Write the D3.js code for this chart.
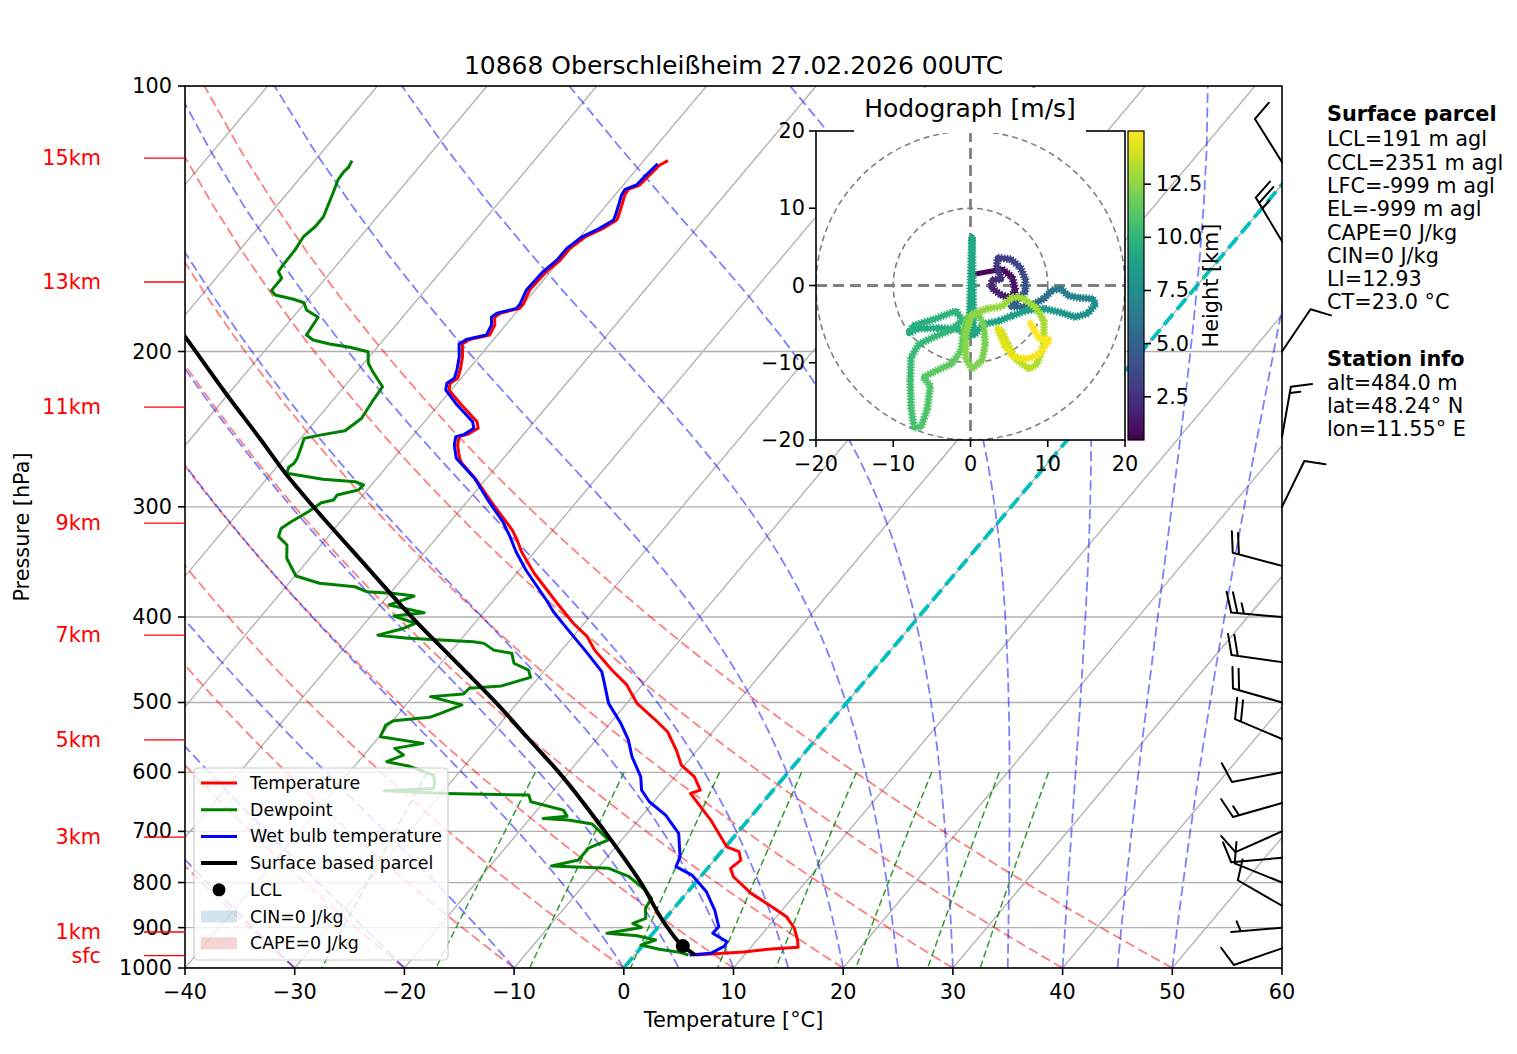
<!DOCTYPE html>
<html><head><meta charset="utf-8">
<script src="https://cdn.jsdelivr.net/npm/d3@7"></script>
<style>body{margin:0;background:#fff;} svg{font-family:"DejaVu Sans",sans-serif;}</style>
</head><body><svg id="c" width="1517" height="1054"></svg>
<script>
// ---------------- DATA ----------------
const titleText = "10868 Oberschleißheim 27.02.2026 00UTC";
const pressureTicks = [100,200,300,400,500,600,700,800,900,1000];
const tempTicks = [-40,-30,-20,-10,0,10,20,30,40,50,60];
// [pressure hPa, temperature °C]
const temperature = [[121.5,-57.8],[122.9,-58.2],[126.7,-58.4],[129.5,-58.5],[131,-59.2],[132.9,-59.1],[136.4,-58.6],[139.4,-58.2],[141.9,-57.9],[145.3,-58.6],[148.3,-59.5],[152.8,-60.0],[157.5,-60.0],[162.8,-60.4],[170.3,-60.5],[176.7,-60.0],[178.7,-60.0],[181,-61.4],[182.9,-61.6],[186.6,-61.0],[191.6,-60.7],[193.8,-62.2],[196.1,-62.5],[202.8,-61.5],[209.9,-60.7],[214.5,-60.3],[217.3,-60.6],[221.1,-60.2],[230,-57.9],[240.3,-55.2],[244.4,-54.6],[248.3,-55.1],[249.8,-55.7],[255.3,-55.2],[264.3,-54.0],[267.8,-53.4],[279.7,-50.8],[296,-47.8],[318.8,-43.7],[327.1,-42.5],[337.3,-41.2],[356.8,-38.4],[385.9,-34.0],[406.6,-31.0],[421.1,-28.7],[436.1,-27.0],[459.4,-23.9],[477.6,-21.4],[501.2,-19.05],[523.4,-16.1],[539.7,-14.1],[566.1,-11.9],[588.7,-10.3],[607,-8.2],[628.5,-6.65],[633.9,-7.3],[679.6,-3.4],[728.7,0.1],[738.2,1.6],[754.4,2.4],[770.9,2.1],[788,3.0],[823,5.9],[852.1,8.8],[874.7,10.9],[901.4,12.5],[929.6,13.7],[947.4,14.3],[952.4,11.7],[959.2,9.7],[962.4,7.9],[966.6,5.5]];
const dewpoint = [[121.5,-86.6],[123.7,-86.4],[125.1,-86.5],[127.8,-86.4],[131.8,-85.9],[135.3,-85.5],[140.7,-84.9],[144.4,-84.9],[148.3,-85.2],[153.5,-84.95],[159.6,-84.9],[162.4,-84.8],[165.2,-84.0],[170.6,-84.0],[172.6,-83.3],[174.5,-81.3],[176.1,-80.1],[179.5,-79.3],[182.9,-77.7],[191.6,-77.4],[194.1,-76.4],[196.1,-74.6],[197.8,-72.5],[200.1,-70.5],[206.2,-69.6],[210.8,-68.55],[219.3,-66.5],[228,-66.3],[238.2,-66.0],[246,-66.55],[248.8,-68.5],[250.9,-69.7],[256.5,-69.3],[264.3,-68.8],[267.8,-68.7],[270.5,-68.9],[274.8,-68.6],[279.2,-64.85],[281,-61.7],[283.4,-60.7],[287.1,-60.8],[290.9,-62.35],[294.7,-62.3],[296.8,-63.2],[303.9,-63.7],[311.9,-64.5],[317.4,-64.9],[324.3,-64.5],[331.4,-63.1],[343.1,-62.1],[359.4,-59.9],[366.3,-57.2],[369.6,-53.7],[374.5,-52.2],[376.1,-49.6],[378.7,-47.6],[387.6,-49.2],[395.6,-45.4],[399,-47.9],[406.6,-45.4],[412.1,-46.1],[419.4,-47.9],[422.9,-44.9],[426.6,-38.7],[428.5,-37.6],[436.1,-36.2],[439.8,-34.3],[451.3,-33.35],[459.4,-31.5],[468.3,-30.75],[478.8,-32.75],[481.7,-35.5],[489,-35.6],[492.4,-38.4],[503.2,-34.9],[514.3,-36.2],[519.7,-36.9],[524.3,-39.9],[530.2,-40.3],[546.7,-39.9],[556.3,-35.5],[563.6,-37.7],[573.5,-36.4],[583.6,-37.4],[590.2,-35.1],[604.4,-32.1],[615.1,-31.5],[625.7,-31.1],[629.6,-35.4],[633.9,-29.6],[636.7,-21.9],[647.9,-21.2],[662.2,-17.6],[672.7,-16.8],[676.8,-18.8],[679.6,-16.4],[686.8,-13.9],[715.8,-11.2],[731.5,-12.4],[754.4,-12.4],[766.3,-14.4],[770.9,-9.0],[788,-6.5],[815.9,-4.0],[833.7,-2.8],[855.6,-2.6],[878.4,-1.8],[890,-2.6],[899.5,-1.5],[913.3,-4.2],[919.3,-1.25],[929.6,0.75],[941.9,-0.2],[952.4,1.8],[960,3.9],[966.6,4.9]];
const wetbulb = [[122.5,-58.5],[126.7,-58.7],[129.5,-58.8],[131,-59.5],[132.9,-59.4],[136.4,-58.9],[139.4,-58.5],[141.9,-58.2],[145.3,-58.9],[148.3,-59.8],[152.8,-60.3],[157.5,-60.3],[162.8,-60.7],[170.3,-60.8],[176.7,-60.3],[178.7,-60.3],[181,-61.7],[182.9,-61.9],[186.6,-61.3],[191.6,-61.0],[193.8,-62.5],[196.1,-62.8],[202.8,-61.8],[209.9,-61.0],[214.5,-60.6],[217.3,-60.9],[221.1,-60.5],[230,-58.3],[240.3,-55.6],[244.4,-55.0],[248.3,-55.4],[249.8,-56.0],[255.3,-55.5],[264.3,-54.3],[267.8,-53.5],[278.5,-51.1],[296,-48.0],[311.9,-45.2],[324.3,-43.4],[337.3,-41.7],[353.8,-39.4],[384.4,-35.0],[394.5,-33.7],[415.6,-30.7],[439.8,-27.4],[461.3,-24.7],[479.7,-23.25],[501.2,-21.65],[528,-19.0],[551.3,-17.05],[575.8,-15.45],[607,-13.1],[628.5,-12.0],[647.9,-10.4],[670.8,-7.9],[703.8,-5.3],[747.7,-3.4],[767.6,-3.0],[784.6,-0.9],[819.6,1.7],[859.5,3.85],[897.9,5.5],[913.3,5.45],[933.7,7.4],[944.4,7.5],[962.4,6.8],[966.6,5.0]];
const parcel = [[966.6,5.5],[944.4,3.7],[900,0.9],[800,-5.0],[700,-12.2],[600,-20.9],[550,-26.2],[500,-32.0],[450,-38.7],[400,-46.2],[350,-54.3],[300,-63.6],[275,-68.7],[252,-73.5],[223,-80.3],[195,-87.6],[180,-92.0]];
const lclPoint = [944.4, 3.7];
const heightLabels = ["15km","13km","11km","9km","7km","5km","3km","1km","sfc"];
const heightPressures = [120.7,166.8,231.2,313.0,419.4,551.3,710.6,910.3,968.4];
const windP = [122,150,200,250,300,350,400,450,500,550,600,650,700,750,800,850,900,950];
const windDir = [328,329,34,10,26,285,275,278,286,293,259,254,246,265,292,300,265,251];
const windSpd = [10,25,10,15,10,20,25,20,20,20,10,15,10,10,10,10,5,10];
const dryT0 = [-40,-30,-20,-10,0,10,20,30,40,50];
const moistT0 = [-40,-30,-20,-10,0,5,10,15,20,25,30,35,40,45,50];
const mixingRatios = [0.0004,0.001,0.002,0.004,0.007,0.01,0.016,0.024,0.032];
const hodoH = [0.47,0.70,0.95,1.2,1.45,1.7,1.95,2.2,2.45,2.7,2.95,3.3,3.6,3.9,4.2,4.5,4.8,5.1,5.4,5.7,6.0,6.3,6.6,6.9,7.2,7.45,7.7,7.95,8.2,8.45,8.6,8.75,8.85,8.95,9.05,9.1,9.15,9.25,9.35,9.45,9.55,9.65,9.75,9.85,9.95,10.05,10.15,10.25,10.35,10.5,10.65,10.8,10.9,11.0,11.1,11.2,11.3,11.4,11.5,11.6,11.7,11.8,11.9,12.0,12.1,12.2,12.3,12.4,12.5,12.6,12.7,12.8,12.9,13.0,13.1,13.2,13.3,13.4,13.6,13.8,14.0,14.2,14.35,14.5,14.65,14.8,14.9,14.95,15.0];
const hodoU = [0.6,4.1,5.4,5.8,5.2,3.9,2.7,2.8,4.0,3.4,3.5,5.2,6.4,7.1,7.1,5.8,5.2,6.5,8.2,9.5,10.6,11.7,12.6,14.1,15.8,16.2,15.2,13.6,11.7,9.5,7.4,5.4,3.7,1.7,0.4,0.2,-0.2,-1.7,-4.3,-6.9,-8.0,-7.4,-4.8,-1.9,-1.0,-2.6,-4.8,-6.7,-7.7,-7.8,-7.7,-7.3,-6.4,-5.6,-5.2,-6.1,-4.8,-2.4,-1.2,-0.9,-0.4,0.9,1.7,1.9,1.5,0.2,-0.6,-0.6,0.2,2.2,4.1,5.4,6.7,8.4,9.5,9.5,8.6,7.6,5.8,4.8,4.1,3.5,4.4,5.6,7.4,8.9,10.2,8.9,7.7];
const hodoV = [1.5,2.1,1.1,-0.6,-1.6,-1.2,-0.3,0.7,0.8,2.4,3.6,3.4,2.4,0.9,-0.8,-2.2,-2.7,-2.8,-2.4,-1.7,-0.6,-0.4,-1.3,-1.6,-1.7,-2.4,-3.6,-4.1,-3.5,-3.0,-3.2,-3.9,-4.6,-5.0,-6.5,6.3,-6.7,-5.6,-5.5,-5.6,-6.2,-5.2,-4.4,-3.3,-4.5,-5.8,-6.7,-7.6,-9.3,-12.3,-15.8,-18.4,-18.3,-16.0,-13.0,-11.9,-11.2,-10.1,-8.4,-5.8,-4.1,-3.6,-5.0,-7.6,-9.7,-10.8,-9.5,-6.3,-3.7,-3.0,-2.7,-1.5,-1.6,-2.8,-4.5,-7.6,-10.2,-10.8,-9.5,-7.6,-6.0,-5.5,-7.8,-9.3,-9.5,-8.9,-7.0,-6.9,-4.8];
const hodoTicks = [-20,-10,0,10,20];
const cbTicks = [2.5,5.0,7.5,10.0,12.5];
const cbRange = [0.47,15.0];
const parcelInfo = ["LCL=191 m agl","CCL=2351 m agl","LFC=-999 m agl","EL=-999 m agl","CAPE=0 J/kg","CIN=0 J/kg","LI=12.93","CT=23.0 °C"];
const stationInfo = ["alt=484.0 m","lat=48.24° N","lon=11.55° E"];
const legendLabels = ["Temperature","Dewpoint","Wet bulb temperature","Surface based parcel","LCL","CIN=0 J/kg","CAPE=0 J/kg"];

// ---------------- LAYOUT ----------------
const svg = d3.select("#c");
const L=185, R=1282, T=86, B=968, K=0.84;
const FS=20.8;
const xs = d3.scaleLinear().domain([-40,60]).range([L,R]);
const ys = d3.scaleLog().domain([1000,100]).range([B,T]);
const sx = (t,p)=> xs(t) + K*(B - ys(p));
const pLin = (a,b,n)=> d3.range(n).map(i=>a+(b-a)*i/(n-1));
const line = d3.line().x(d=>sx(d[1],d[0])).y(d=>ys(d[0]));
const smooth = d3.line().x(d=>sx(d[1],d[0])).y(d=>ys(d[0])).curve(d3.curveMonotoneY);
const fmt = v => (v<0? "\u2212"+Math.abs(v) : ""+v);

const defs = svg.append("defs");
defs.append("clipPath").attr("id","pc").append("rect").attr("x",L).attr("y",T).attr("width",R-L).attr("height",B-T);

const plot = svg.append("g").attr("clip-path","url(#pc)");
d3.range(-120,61,10).forEach(t=>{
  plot.append("line").attr("x1",sx(t,1000)).attr("y1",B).attr("x2",sx(t,100)).attr("y2",T)
    .attr("stroke","#b0b0b0").attr("stroke-width",1.3);
});
pressureTicks.forEach(p=>{
  plot.append("line").attr("x1",L).attr("x2",R).attr("y1",ys(p)).attr("y2",ys(p)).attr("stroke","#b0b0b0").attr("stroke-width",1.3);
});
dryT0.forEach(t0=>{
  const pts = pLin(1000,100,50).map(p=>[p,(t0+273.15)*Math.pow(p/1000,0.2857)-273.15]);
  plot.append("path").attr("d",line(pts)).attr("fill","none").attr("stroke","#ff0000").attr("stroke-opacity",0.5)
    .attr("stroke-width",1.8).attr("stroke-dasharray","10,4.5");
});
const Rd=287.04749, Cp=1004.6662, Lv=2.50084e6, EPS=0.6219569;
function dTdp(p,Tk){const es=6.112*Math.exp(17.67*(Tk-273.15)/(Tk-29.65)); const rs=EPS*es/(p-es);
  return (Rd*Tk+Lv*rs)/(Cp+Lv*Lv*rs*EPS/(Rd*Tk*Tk))/p;}
moistT0.forEach(t0=>{
  const ps=pLin(1000,100,50); let Tk=t0+273.15, p=1000; const out=[[1000,t0]];
  for(let i=1;i<ps.length;i++){const n=10, h=(ps[i]-p)/n;
    for(let j=0;j<n;j++){const k1=dTdp(p,Tk),k2=dTdp(p+h/2,Tk+h/2*k1),k3=dTdp(p+h/2,Tk+h/2*k2),k4=dTdp(p+h,Tk+h*k3);
      Tk+=h/6*(k1+2*k2+2*k3+k4); p+=h;}
    out.push([ps[i],Tk-273.15]);}
  plot.append("path").attr("d",line(out)).attr("fill","none").attr("stroke","#0000ff").attr("stroke-opacity",0.5)
    .attr("stroke-width",1.8).attr("stroke-dasharray","10,4.5");
});
mixingRatios.forEach(w=>{
  const pts=pLin(600,1000,50).map(p=>{const e=p*w/(EPS+w); const v=Math.log(e/6.112); return [p,243.5*v/(17.67-v)];});
  plot.append("path").attr("d",line(pts)).attr("fill","none").attr("stroke","#008000").attr("stroke-opacity",0.8)
    .attr("stroke-width",1.5).attr("stroke-dasharray","7,3.5");
});
plot.append("line").attr("x1",sx(0,1000)).attr("y1",B).attr("x2",sx(0,100)).attr("y2",T)
  .attr("stroke","#00bfbf").attr("stroke-width",3.8).attr("stroke-dasharray","14,6");
const prof=(data,col,w,gen)=>plot.append("path").attr("d",(gen||line)(data)).attr("fill","none").attr("stroke",col).attr("stroke-width",w).attr("stroke-linejoin","round");
prof(temperature,"#ff0000",3);
prof(dewpoint,"#008000",3);
prof(wetbulb,"#0000ff",3);
prof(parcel,"#000000",4,smooth);
plot.append("circle").attr("cx",sx(lclPoint[1],lclPoint[0])).attr("cy",ys(lclPoint[0])).attr("r",7).attr("fill","#000");

// legend
const lg = svg.append("g");
lg.append("rect").attr("x",194).attr("y",768).attr("width",254).attr("height",192).attr("rx",4)
  .attr("fill","#fff").attr("fill-opacity",0.8).attr("stroke","#cccccc").attr("stroke-width",1.2);
const lgCols=["#ff0000","#008000","#0000ff","#000000"];
legendLabels.forEach((lab,i)=>{
  const y=783+i*26.7;
  if(i<4) lg.append("line").attr("x1",201).attr("x2",237).attr("y1",y).attr("y2",y).attr("stroke",lgCols[i]).attr("stroke-width",i==3?4:3);
  else if(i==4) lg.append("circle").attr("cx",219).attr("cy",y).attr("r",6.5).attr("fill","#000");
  else lg.append("rect").attr("x",201).attr("y",y-6).attr("width",36).attr("height",12).attr("fill",i==5?"#1f77b4":"#d62728").attr("fill-opacity",0.2);
  lg.append("text").attr("x",250).attr("y",y).attr("dominant-baseline","central").attr("font-size",17.4).text(lab);
});

// axes
const ax = svg.append("g");
ax.append("rect").attr("x",L).attr("y",T).attr("width",R-L).attr("height",B-T).attr("fill","none").attr("stroke","#000").attr("stroke-width",1.6);
pressureTicks.forEach(p=>{
  ax.append("line").attr("x1",L-7).attr("x2",L).attr("y1",ys(p)).attr("y2",ys(p)).attr("stroke","#000").attr("stroke-width",1.6);
  ax.append("text").attr("x",L-13).attr("y",ys(p)).attr("text-anchor","end").attr("dominant-baseline","central").attr("font-size",FS).text(p);
});
tempTicks.forEach(t=>{
  ax.append("line").attr("x1",xs(t)).attr("x2",xs(t)).attr("y1",B).attr("y2",B+7).attr("stroke","#000").attr("stroke-width",1.6);
  ax.append("text").attr("x",xs(t)).attr("y",B+24).attr("text-anchor","middle").attr("dominant-baseline","central").attr("font-size",FS).text(fmt(t));
});
ax.append("text").attr("x",(L+R)/2).attr("y",1020).attr("text-anchor","middle").attr("dominant-baseline","central").attr("font-size",FS).text("Temperature [°C]");
ax.append("text").attr("transform",`translate(22,${(T+B)/2}) rotate(-90)`).attr("text-anchor","middle").attr("dominant-baseline","central").attr("font-size",FS).text("Pressure [hPa]");
ax.append("text").attr("x",(L+R)/2).attr("y",65).attr("text-anchor","middle").attr("dominant-baseline","central").attr("font-size",25).text(titleText);
heightLabels.forEach((lab,i)=>{
  const y=ys(heightPressures[i]);
  ax.append("line").attr("x1",144).attr("x2",L).attr("y1",y).attr("y2",y).attr("stroke","#ff0000").attr("stroke-width",1.3);
  ax.append("text").attr("x",101).attr("y",y).attr("text-anchor","end").attr("dominant-baseline","central").attr("font-size",FS).attr("fill","#ff0000").text(lab);
});

// wind barbs
const BL=51, FH=0.4*BL, FW=0.25*BL, SP=0.125*BL;
const bg = svg.append("g").attr("stroke","#000").attr("stroke-width",2).attr("fill","none").attr("stroke-linecap","round");
windP.forEach((p,i)=>{
  const d=windDir[i]*Math.PI/180, s=[Math.sin(d),-Math.cos(d)], pp=[Math.cos(d),Math.sin(d)];
  const b=[R,ys(p)], tip=[b[0]+BL*s[0],b[1]+BL*s[1]];
  let path=`M${b[0]},${b[1]}L${tip[0]},${tip[1]}`;
  let spd=windSpd[i], nfull=Math.floor(spd/10), half=(spd%10)>=5, off=0;
  for(let k=0;k<nfull;k++){const st=[tip[0]-s[0]*off,tip[1]-s[1]*off];
    path+=`M${st[0]},${st[1]}L${st[0]+pp[0]*FH+s[0]*FW/2},${st[1]+pp[1]*FH+s[1]*FW/2}`; off+=SP;}
  if(half){ if(off==0) off=1.5*SP; const st=[tip[0]-s[0]*off,tip[1]-s[1]*off];
    path+=`M${st[0]},${st[1]}L${st[0]+pp[0]*FH/2+s[0]*FW/4},${st[1]+pp[1]*FH/2+s[1]*FW/4}`;}
  bg.append("path").attr("d",path);
});

// text panel
const tp = svg.append("g").attr("font-size",FS);
tp.append("text").attr("x",1327).attr("y",114).attr("dominant-baseline","central").attr("font-weight","bold").text("Surface parcel");
parcelInfo.forEach((t,i)=>tp.append("text").attr("x",1327).attr("y",139.3+i*23.3).attr("dominant-baseline","central").text(t));
tp.append("text").attr("x",1327).attr("y",359.3).attr("dominant-baseline","central").attr("font-weight","bold").text("Station info");
stationInfo.forEach((t,i)=>tp.append("text").attr("x",1327).attr("y",382.7+i*23.3).attr("dominant-baseline","central").text(t));

// hodograph
const HL=816, HR=1125, HT=131, HB=440;
const hu=d3.scaleLinear().domain([-20,20]).range([HL,HR]);
const hv=d3.scaleLinear().domain([-20,20]).range([HB,HT]);
const hg=svg.append("g");
hg.append("rect").attr("x",HL).attr("y",HT).attr("width",HR-HL).attr("height",HB-HT).attr("fill","#fff");
defs.append("clipPath").attr("id","hc").append("rect").attr("x",HL).attr("y",HT).attr("width",HR-HL).attr("height",HB-HT);
const hin=hg.append("g").attr("clip-path","url(#hc)");
[10,20].forEach(r=>hin.append("circle").attr("cx",hu(0)).attr("cy",hv(0)).attr("r",hu(r)-hu(0)).attr("fill","none")
  .attr("stroke","#808080").attr("stroke-width",1.6).attr("stroke-dasharray","6,4"));
hin.append("line").attr("x1",hu(0)).attr("x2",hu(0)).attr("y1",HT).attr("y2",HB).attr("stroke","#808080").attr("stroke-width",2.8).attr("stroke-dasharray","11,6");
hin.append("line").attr("x1",HL).attr("x2",HR).attr("y1",hv(0)).attr("y2",hv(0)).attr("stroke","#808080").attr("stroke-width",2.8).attr("stroke-dasharray","11,6");
const cnorm=h=>(h-cbRange[0])/(cbRange[1]-cbRange[0]);
for(let i=0;i<hodoH.length-1;i++){
  const c=d3.interpolateViridis(cnorm((hodoH[i]+hodoH[i+1])/2));
  const x1=hu(hodoU[i]),y1=hv(hodoV[i]),x2=hu(hodoU[i+1]),y2=hv(hodoV[i+1]);
  hin.append("line").attr("x1",x1).attr("y1",y1).attr("x2",x2).attr("y2",y2).attr("stroke",c).attr("stroke-width",5).attr("stroke-linecap","round");
  if(i>0) hin.append("line").attr("x1",x1).attr("y1",y1).attr("x2",x2).attr("y2",y2).attr("stroke",c).attr("stroke-width",8).attr("stroke-dasharray","1.5,1.5");
}
hg.append("rect").attr("x",HL).attr("y",HT).attr("width",HR-HL).attr("height",HB-HT).attr("fill","none").attr("stroke","#000").attr("stroke-width",1.6);
hg.append("rect").attr("x",854).attr("y",88).attr("width",232).attr("height",45).attr("fill","#fff");
hg.append("text").attr("x",970).attr("y",108).attr("text-anchor","middle").attr("dominant-baseline","central").attr("font-size",25).text("Hodograph [m/s]");
hodoTicks.forEach(t=>{
  hg.append("line").attr("x1",HL-7).attr("x2",HL).attr("y1",hv(t)).attr("y2",hv(t)).attr("stroke","#000").attr("stroke-width",1.6);
  hg.append("text").attr("x",HL-11).attr("y",hv(t)).attr("text-anchor","end").attr("dominant-baseline","central").attr("font-size",FS).text(fmt(t));
  hg.append("line").attr("x1",hu(t)).attr("x2",hu(t)).attr("y1",HB).attr("y2",HB+7).attr("stroke","#000").attr("stroke-width",1.6);
  hg.append("text").attr("x",hu(t)).attr("y",HB+24).attr("text-anchor","middle").attr("dominant-baseline","central").attr("font-size",FS).text(fmt(t));
});
const gr=defs.append("linearGradient").attr("id","vir").attr("x1",0).attr("y1",1).attr("x2",0).attr("y2",0);
d3.range(0,1.0001,0.05).forEach(o=>gr.append("stop").attr("offset",o).attr("stop-color",d3.interpolateViridis(o)));
const CL=1128, CR=1144;
const cb=d3.scaleLinear().domain(cbRange).range([HB,HT]);
hg.append("rect").attr("x",CL).attr("y",HT).attr("width",CR-CL).attr("height",HB-HT).attr("fill","url(#vir)").attr("stroke","#000").attr("stroke-width",1.2);
cbTicks.forEach(t=>{
  hg.append("line").attr("x1",CR).attr("x2",CR+7).attr("y1",cb(t)).attr("y2",cb(t)).attr("stroke","#000").attr("stroke-width",1.6);
  hg.append("text").attr("x",CR+12).attr("y",cb(t)).attr("dominant-baseline","central").attr("font-size",FS).text(t.toFixed(1));
});
hg.append("text").attr("transform",`translate(1211,${(HT+HB)/2}) rotate(-90)`).attr("text-anchor","middle").attr("dominant-baseline","central").attr("font-size",FS).text("Height [km]");
</script></body></html>
